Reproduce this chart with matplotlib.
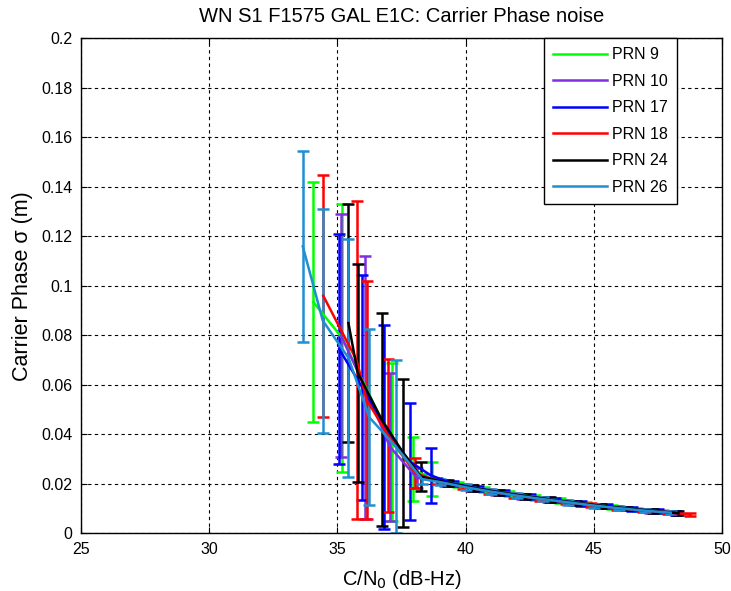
import matplotlib
matplotlib.use('Agg')
import matplotlib.pyplot as plt

plt.rcParams['font.family'] = ['Liberation Sans', 'DejaVu Sans']

# C/N0 [dB-Hz], mean carrier phase sigma [m] and its spread
prn_labels = ['PRN 9', 'PRN 10', 'PRN 17', 'PRN 18', 'PRN 24', 'PRN 26']
prn_colors = ['#00ff00', '#8030e0', '#0000ff', '#ff0000', '#000000', '#1e8fd2']

cn0_9 = [34.06, 35.19, 37.12, 37.94, 38.68, 39.7, 40.7, 41.7, 42.7, 43.7, 44.7, 45.7, 46.7, 47.7]
sig_9 = [0.0935, 0.079, 0.037, 0.026, 0.022, 0.0198, 0.0178, 0.0161, 0.0147, 0.0133, 0.0120, 0.0108, 0.0097, 0.0088]
err_9 = [0.0485, 0.054, 0.032, 0.0128, 0.0067, 0.0012, 0.0011, 0.0010, 0.0010, 0.0009, 0.0009, 0.0008, 0.0008, 0.0007]

cn0_10 = [35.14, 36.08, 37.05, 38.1, 39.2, 40.2, 41.2, 42.2, 43.2, 44.2, 45.2, 46.2, 47.2, 48.2]
sig_10 = [0.080, 0.059, 0.035, 0.0225, 0.0205, 0.0184, 0.0165, 0.0151, 0.0137, 0.0124, 0.0112, 0.0101, 0.0091, 0.0082]
err_10 = [0.049, 0.053, 0.030, 0.004, 0.0012, 0.0011, 0.0010, 0.0010, 0.0009, 0.0009, 0.0008, 0.0008, 0.0007, 0.0007]

cn0_17 = [35.07, 35.97, 36.82, 37.83, 38.64, 39.5, 40.5, 41.5, 42.5, 43.5, 44.5, 45.5, 46.5, 47.5, 48.2]
sig_17 = [0.0745, 0.059, 0.043, 0.029, 0.0235, 0.0202, 0.0182, 0.0164, 0.0149, 0.0135, 0.0122, 0.0110, 0.0099, 0.0090, 0.0083]
err_17 = [0.0465, 0.0455, 0.0412, 0.0237, 0.0111, 0.0012, 0.0011, 0.0010, 0.0010, 0.0009, 0.0009, 0.0008, 0.0008, 0.0007, 0.0007]

cn0_18 = [34.45, 35.75, 36.14, 36.99, 38.03, 38.9, 39.9, 40.9, 41.9, 42.9, 43.9, 44.9, 45.9, 46.9, 47.9, 48.75]
sig_18 = [0.096, 0.070, 0.054, 0.0395, 0.0245, 0.0212, 0.0190, 0.0170, 0.0155, 0.0140, 0.0127, 0.0115, 0.0103, 0.0093, 0.0085, 0.0077]
err_18 = [0.0489, 0.0642, 0.0482, 0.0309, 0.0060, 0.0012, 0.0011, 0.0010, 0.0010, 0.0009, 0.0009, 0.0008, 0.0008, 0.0007, 0.0007, 0.0007]

cn0_24 = [35.43, 35.79, 36.73, 37.57, 38.25, 39.3, 40.3, 41.3, 42.3, 43.3, 44.3, 45.3, 46.3, 47.3, 48.3]
sig_24 = [0.085, 0.065, 0.046, 0.0325, 0.023, 0.0205, 0.0184, 0.0166, 0.0151, 0.0137, 0.0124, 0.0112, 0.0101, 0.0091, 0.0082]
err_24 = [0.048, 0.044, 0.043, 0.030, 0.0059, 0.0012, 0.0011, 0.0010, 0.0010, 0.0009, 0.0009, 0.0008, 0.0008, 0.0007, 0.0007]

cn0_26 = [33.65, 34.43, 35.43, 36.24, 37.29, 38.3, 39.0, 40.0, 41.0, 42.0, 43.0, 44.0, 45.0, 46.0, 47.0, 48.0]
sig_26 = [0.116, 0.086, 0.071, 0.047, 0.035, 0.022, 0.0208, 0.0187, 0.0169, 0.0153, 0.0139, 0.0126, 0.0113, 0.0102, 0.0092, 0.0084]
err_26 = [0.0386, 0.0452, 0.048, 0.0356, 0.035, 0.0020, 0.0012, 0.0011, 0.0010, 0.0010, 0.0009, 0.0009, 0.0008, 0.0008, 0.0007, 0.0007]

cn0_all = [cn0_9, cn0_10, cn0_17, cn0_18, cn0_24, cn0_26]
sig_all = [sig_9, sig_10, sig_17, sig_18, sig_24, sig_26]
err_all = [err_9, err_10, err_17, err_18, err_24, err_26]

fig = plt.figure(figsize=(7.31, 5.91), dpi=100)
ax = fig.add_axes([0.1108, 0.0973, 0.8769, 0.8376])

for x, y, e, c, lab in zip(cn0_all, sig_all, err_all, prn_colors, prn_labels):
    ax.errorbar(x, y, yerr=e, color=c, lw=1.8, elinewidth=1.8,
                capsize=4.5, capthick=1.8, label=lab)

ax.set_xlim(25, 50)
ax.set_ylim(0, 0.2)
ax.set_xticks([25, 30, 35, 40, 45, 50])
ax.set_yticks([0, 0.02, 0.04, 0.06, 0.08, 0.1, 0.12, 0.14, 0.16, 0.18, 0.2])
ax.set_yticklabels(['0', '0.02', '0.04', '0.06', '0.08', '0.1', '0.12',
                    '0.14', '0.16', '0.18', '0.2'])
ax.tick_params(direction='in', top=True, right=True, labelsize=11.5, length=4, pad=6)
ax.grid(True, color='black', linestyle=(0, (3, 3)), linewidth=0.8)
for s in ax.spines.values():
    s.set_linewidth(1.0)

ax.set_title('WN S1 F1575 GAL E1C: Carrier Phase noise', fontsize=14.5, pad=12)
ax.set_xlabel('C/N$_0$ (dB-Hz)', fontsize=14.5, labelpad=8)
ax.set_ylabel('Carrier Phase σ (m)', fontsize=15.5, labelpad=6)

handles, labels = ax.get_legend_handles_labels()
handles = [h[0] for h in handles]
leg = ax.legend(handles, labels, loc='upper right', bbox_to_anchor=(0.93, 1.0),
                borderaxespad=0, fontsize=11.5, fancybox=False, framealpha=1,
                edgecolor='black', handlelength=3.4, handletextpad=0.35,
                labelspacing=0.72, borderpad=0.55)
leg.get_frame().set_linewidth(1.0)

plt.savefig('out.png', dpi=100)
plt.close()
